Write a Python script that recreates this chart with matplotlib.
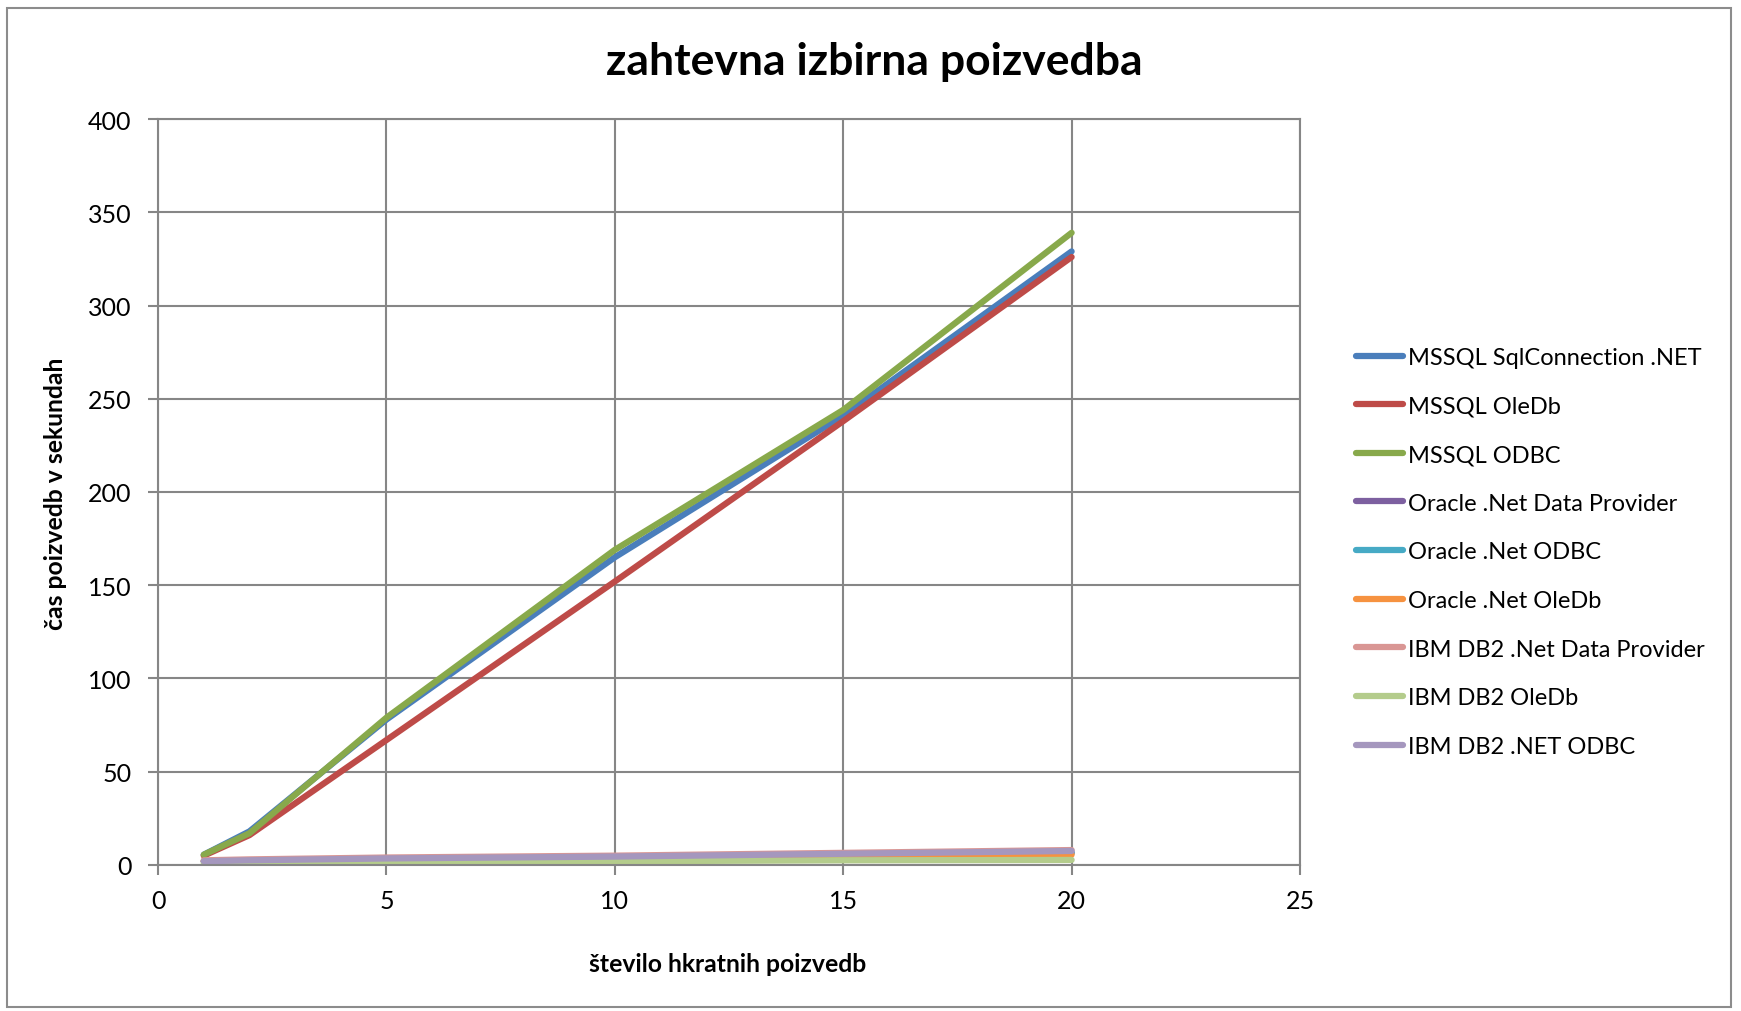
import matplotlib
matplotlib.use("Agg")
import matplotlib.pyplot as plt
from matplotlib.patches import Rectangle

plt.rcParams["font.family"] = ["Lato", "DejaVu Sans"]

# ─────────────────────────────────────────────
# data
# ─────────────────────────────────────────────
x_vals = [1, 2, 5, 10, 15, 20]

mssql_sqlconn   = [5.5, 18, 78, 165, 241, 329]
mssql_oledb     = [5.0, 16, 67, 152, 238, 326]
mssql_odbc      = [5.5, 17, 79, 169, 244, 339]
ora_net_dp      = [2.0, 2.5, 3.5, 4.5, 5.5, 6.5]
ora_net_odbc    = [2.0, 2.5, 3.5, 4.5, 5.5, 6.5]
ora_net_oledb   = [2.0, 2.5, 3.5, 4.5, 5.5, 5.5]
db2_net_dp      = [2.5, 3.0, 4.0, 5.0, 6.5, 8.0]
db2_oledb       = [1.0, 1.2, 1.5, 2.0, 2.5, 2.7]
db2_net_odbc    = [2.0, 2.5, 3.5, 4.5, 6.0, 7.5]

series_names = ["MSSQL SqlConnection .NET", "MSSQL OleDb", "MSSQL ODBC",
                "Oracle .Net Data Provider", "Oracle .Net ODBC", "Oracle .Net OleDb",
                "IBM DB2 .Net Data Provider", "IBM DB2 OleDb", "IBM DB2 .NET ODBC"]
series_values = [mssql_sqlconn, mssql_oledb, mssql_odbc,
                 ora_net_dp, ora_net_odbc, ora_net_oledb,
                 db2_net_dp, db2_oledb, db2_net_odbc]
colors = ["#4A7EBB", "#BE4B48", "#88A94B",
          "#7D60A0", "#46AAC5", "#F69240",
          "#D99694", "#B4CC8C", "#A597BE"]

GRID = "#868686"

fig = plt.figure(figsize=(17.41, 10.12), dpi=100)
fig.patch.set_facecolor("white")
# outer chart border
fig.add_artist(Rectangle((0.004, 0.004), 0.990, 0.987, transform=fig.transFigure,
                         fill=False, edgecolor="#8C8C8C", linewidth=1.5))

ax = fig.add_axes([0.0908, 0.1443, 0.6559, 0.7371])

for name, vals, col in zip(series_names, series_values, colors):
    ax.plot(x_vals, vals, color=col, linewidth=4.5, label=name,
            solid_capstyle="round", solid_joinstyle="round")

ax.set_xlim(0, 25)
ax.set_ylim(0, 400)
ax.set_xticks(range(0, 26, 5))
ax.set_yticks(range(0, 401, 50))
ax.grid(True, color=GRID, linewidth=1.5)
ax.set_axisbelow(True)
for spine in ax.spines.values():
    spine.set_edgecolor(GRID)
    spine.set_linewidth(1.5)
ax.tick_params(axis="both", length=7, width=1.5, color=GRID, labelsize=18)
ax.tick_params(axis="x", pad=10)
ax.tick_params(axis="y", pad=12)

fig.text(0.502, 0.939, "zahtevna izbirna poizvedba", ha="center", va="center",
         fontsize=32, fontweight="bold")
fig.text(0.418, 0.047, "število hkratnih poizvedb", ha="center", va="center",
         fontsize=17.8, fontweight="bold")
fig.text(0.032, 0.512, "čas poizvedb v sekundah", ha="center", va="center",
         fontsize=17.8, fontweight="bold", rotation=90)

fig.legend(loc="upper left", bbox_to_anchor=(0.772, 0.668), frameon=False,
           fontsize=17, handlelength=2.0, handletextpad=0.2, labelspacing=1.17,
           borderpad=0)

plt.savefig("out.png", dpi=100, facecolor="white")
